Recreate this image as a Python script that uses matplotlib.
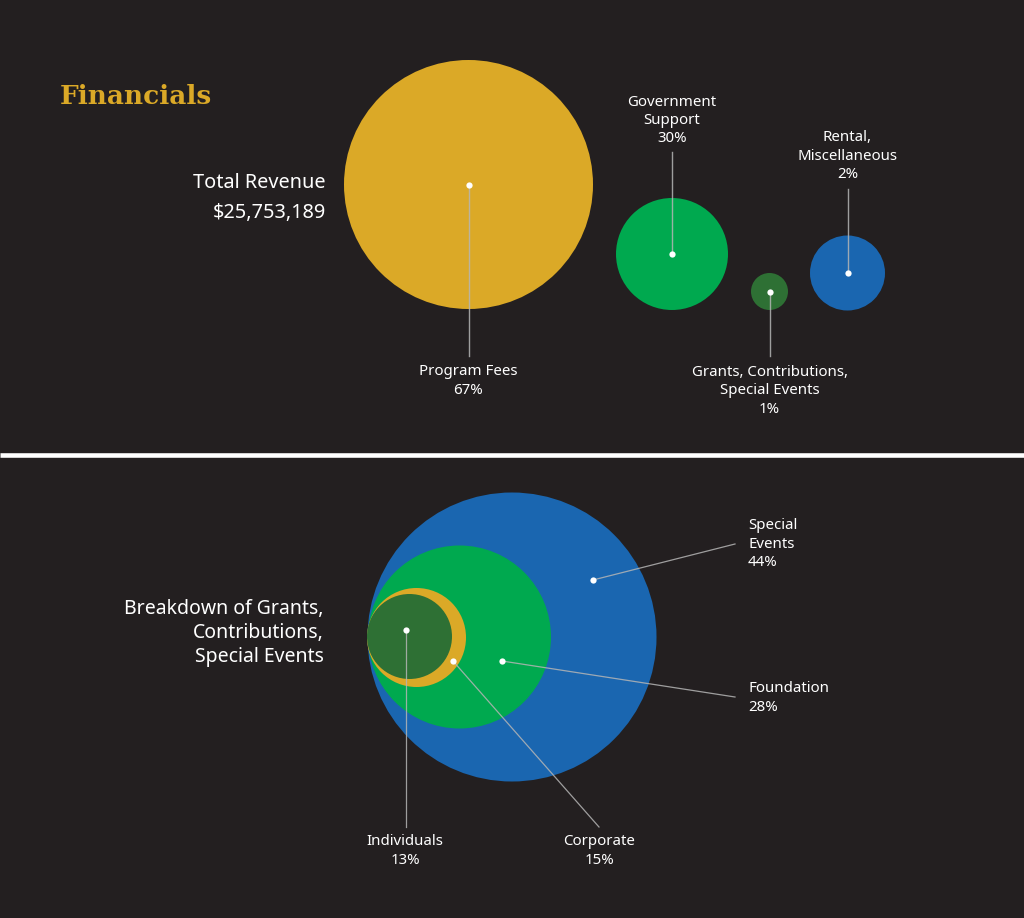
import matplotlib
matplotlib.use('Agg')

import matplotlib.pyplot as plt
from matplotlib.patches import Circle

# Colours
bg = '#231f20'
gold = '#dba927'
green = '#00a94f'
dark_green = '#2e7034'
blue = '#1a66b0'
line_col = '#b5b5b5'

# Data: total revenue split
revenue_total = "$25,753,189"
revenue_labels = ["Program Fees", "Government\nSupport",
                  "Grants, Contributions,\nSpecial Events", "Rental,\nMiscellaneous"]
revenue_pct = [67, 30, 1, 2]
revenue_colors = [gold, green, dark_green, blue]

# Data: breakdown of grants, contributions, special events
breakdown_labels = ["Special\nEvents", "Foundation", "Corporate", "Individuals"]
breakdown_pct = [44, 28, 15, 13]
breakdown_colors = [blue, green, gold, dark_green]

# Layout (pixel coordinates of the artwork)
rev_circles = [(468.5, 184.5, 124.5), (672, 254, 56), (769.5, 291.5, 18.5), (847.5, 273, 37.5)]
rev_line_end = [356, 152, 356, 189]
rev_text_y = [381, 120.5, 391, 156]

bd_circles = [(512, 637, 144.5), (459.5, 637, 91.5), (416.5, 637.5, 49.5), (409.5, 636.5, 42.5)]
bd_dots = [(593, 580), (502, 661), (452.7, 660.7), (405.7, 630)]
bd_line_end = [(735, 544), (735, 697), (599, 827), (405.7, 827)]
bd_text = [(748, 544, 'left'), (748, 698, 'left'), (599, 851, 'center'), (405, 851, 'center')]

W, H = 1024, 918
fig = plt.figure(figsize=(W / 100, H / 100), dpi=100, facecolor=bg)
ax = fig.add_axes([0, 0, 1, 1])
ax.set_xlim(0, W)
ax.set_ylim(H, 0)
ax.set_aspect('equal')
ax.axis('off')
ax.set_facecolor(bg)

sans = ['Noto Sans', 'DejaVu Sans']
small = dict(color='white', fontsize=10.8, family=sans, linespacing=1.3)

# Title
ax.text(60, 96, "Financials", color=gold, fontsize=19, fontweight='bold',
        family=['DejaVu Serif'], va='center', ha='left')

# Top section
ax.text(326, 183, "Total Revenue", color='white', fontsize=14.3, family=sans, ha='right', va='center')
ax.text(326, 213, revenue_total, color='white', fontsize=14.3, family=sans, ha='right', va='center')

for (cx, cy, r), col, lab, pct, ly, ty in zip(rev_circles, revenue_colors, revenue_labels,
                                             revenue_pct, rev_line_end, rev_text_y):
    ax.add_patch(Circle((cx, cy), r, color=col, lw=0))
    ax.plot([cx, cx], [cy, ly], color=line_col, lw=1.0, alpha=0.85)
    ax.plot(cx, cy, 'o', color='white', ms=4.5, mec='none')
    ax.text(cx, ty, f"{lab}\n{pct}%", ha='center', va='center', multialignment='center', **small)

# Divider
ax.plot([0, W], [454.5, 454.5], color='white', lw=3.3, solid_capstyle='butt')

# Bottom section
ax.text(324, 633, "Breakdown of Grants,\nContributions,\nSpecial Events", color='white',
        fontsize=14, family=sans, ha='right', va='center', multialignment='right', linespacing=1.29)

for (cx, cy, r), col in zip(bd_circles, breakdown_colors):
    ax.add_patch(Circle((cx, cy), r, color=col, lw=0))

for (dx, dy), (ex, ey), (tx, ty, ha), lab, pct in zip(bd_dots, bd_line_end, bd_text,
                                                     breakdown_labels, breakdown_pct):
    ax.plot([dx, ex], [dy, ey], color=line_col, lw=0.9, alpha=0.85)
    ax.plot(dx, dy, 'o', color='white', ms=4.5, mec='none')
    ax.text(tx, ty, f"{lab}\n{pct}%", ha=ha, va='center', multialignment=ha, **small)

fig.savefig('out.png', dpi=100, facecolor=bg)
